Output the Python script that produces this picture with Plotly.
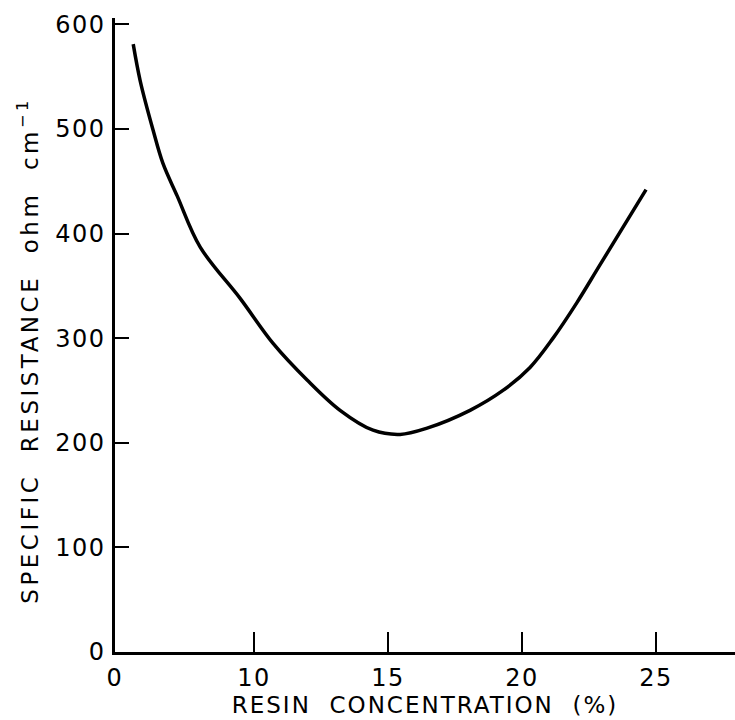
import plotly.graph_objects as go

# Data
resin_pct = [5.49, 5.75, 6.23, 6.60, 7.13, 7.99, 9.48, 10.71, 11.98, 13.21,
             14.44, 15.45, 16.46, 18.06, 19.29, 20.30, 21.16, 22.05, 22.91, 24.63]
resistance = [581, 546, 499, 467, 436, 387, 338, 295, 260, 231,
              212, 208, 214, 231, 250, 272, 300, 334, 370, 442]

x_origin = 4.81  # axis origin (labelled "0" in the original, truncated axis)
x_ticks = [x_origin, 10, 15, 20, 25]
x_tick_text = ["0", "10", "15", "20", "25"]
y_ticks = [0, 100, 200, 300, 400, 500, 600]

x_title = "RESIN\u00a0 CONCENTRATION\u00a0 (%)"
y_title = "SPECIFIC\u00a0 RESISTANCE\u00a0 ohm\u00a0 cm<sup>−1</sup>"

FONT = "DejaVu Sans"

fig = go.Figure()
fig.add_trace(go.Scatter(
    x=resin_pct, y=resistance, mode="lines",
    line=dict(color="black", width=3.5, shape="spline", smoothing=1.0),
    showlegend=False, hoverinfo="skip",
))

fig.add_annotation(
    text=y_title, textangle=-90,
    xref="paper", yref="paper", x=-0.14, y=0.476,
    xanchor="center", yanchor="middle", showarrow=False,
    font=dict(family=FONT, size=23, color="black"),
)

fig.update_layout(
    width=735, height=720,
    margin=dict(l=115, r=0, t=18, b=68),
    paper_bgcolor="white", plot_bgcolor="white",
    font=dict(family=FONT, color="black", size=24),
    xaxis=dict(
        range=[x_origin, 27.95],
        tickvals=x_ticks, ticktext=x_tick_text,
        ticks="inside", ticklen=20, tickwidth=2, tickcolor="black",
        showline=True, linewidth=2.5, linecolor="black",
        showgrid=False, zeroline=False,
        tickfont=dict(family=FONT, size=24),
        ticklabelstandoff=2,
        title=dict(text=x_title, standoff=4,
                   font=dict(family=FONT, size=23)),
    ),
    yaxis=dict(
        range=[0, 606],
        tickvals=y_ticks,
        ticks="inside", ticklen=14, tickwidth=2, tickcolor="black",
        showline=True, linewidth=2.5, linecolor="black",
        showgrid=False, zeroline=False,
        tickfont=dict(family=FONT, size=24),
        ticklabelstandoff=2,
    ),
)

post = """
document.body.style.margin = '0';
document.body.style.overflow = 'hidden';
document.querySelectorAll('.xtitle').forEach(function(e){ e.style.letterSpacing = '2px'; });
document.querySelectorAll('.annotation-text').forEach(function(e){ e.style.letterSpacing = '3.5px'; });
document.querySelectorAll('.xtick text, .ytick text').forEach(function(e){ e.style.letterSpacing = '1.5px'; });
"""

fig.write_html("out.html", post_script=post, config={"displayModeBar": False})
